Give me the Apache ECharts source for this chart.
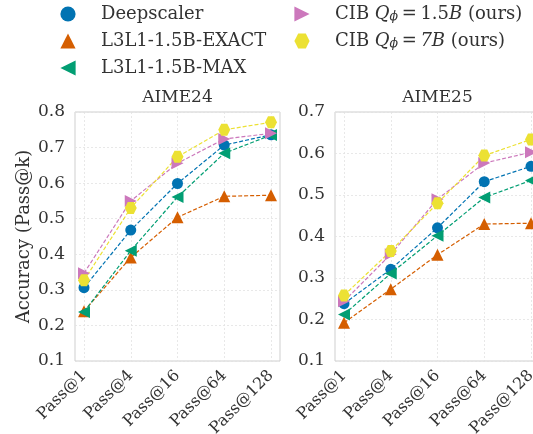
<!DOCTYPE html>
<html>
<head>
<meta charset="utf-8">
<script src="https://cdn.jsdelivr.net/npm/echarts@6/dist/echarts.min.js"></script>
<style>
html,body{margin:0;padding:0;background:#fff}
#main{width:533px;height:434px}
</style>
</head>
<body>
<div id="main"></div>
<script>
// 横轴
var passK = ['Pass@1', 'Pass@4', 'Pass@16', 'Pass@64', 'Pass@128'];
var names = ['Deepscaler', 'L3L1-1.5B-EXACT', 'L3L1-1.5B-MAX', 'CIB 1.5B', 'CIB 7B'];

// AIME24
var deepscaler24 = [0.306, 0.468, 0.599, 0.707, 0.736];
var exact24      = [0.240, 0.391, 0.504, 0.563, 0.566];
var max24        = [0.238, 0.410, 0.561, 0.684, 0.735];
var cib15_24     = [0.347, 0.550, 0.656, 0.724, 0.740];
var cib7_24      = [0.327, 0.530, 0.674, 0.750, 0.771];

// AIME25
var deepscaler25 = [0.238, 0.321, 0.421, 0.532, 0.569];
var exact25      = [0.192, 0.273, 0.356, 0.430, 0.432];
var max25        = [0.212, 0.311, 0.402, 0.494, 0.535];
var cib15_25     = [0.244, 0.357, 0.490, 0.577, 0.603];
var cib7_25      = [0.258, 0.365, 0.480, 0.595, 0.634];

var font = 'DejaVu Serif';
var txt = '#333';
var colors = ['#0173b2', '#d55e00', '#029e73', '#cc78bc', '#ece133'];
var symbols = [
    'circle',
    'triangle',
    'path://M0,5 L9,0 L9,10 Z',
    'path://M0,0 L9,5 L0,10 Z',
    'path://M2.5,0 L7.5,0 L10,4.33 L7.5,8.66 L2.5,8.66 L0,4.33 Z'
];
var sizes = [11, 12, 12, 12, 12];

var panels = [
    {title: 'AIME24', max: 0.8, data: [deepscaler24, exact24, max24, cib15_24, cib7_24]},
    {title: 'AIME25', max: 0.7, data: [deepscaler25, exact25, max25, cib15_25, cib7_25]}
];

var chart = echarts.init(document.getElementById('main'));

var grids = [], xAxes = [], yAxes = [], series = [], graphics = [];
var frameLeft = [75, 335];
panels.forEach(function (p, k) {
    var fl = frameLeft[k];
    // 外框
    grids.push({left: fl, top: 112, width: 205, height: 249, show: true,
        borderColor: '#cfcfcf', borderWidth: 1, backgroundColor: 'transparent',
        containLabel: false, outerBoundsMode: 'none'});
    // 数据区
    grids.push({left: fl + 9, top: 112, width: 187, height: 249,
        containLabel: false, outerBoundsMode: 'none'});
    xAxes.push({gridIndex: 2 * k, type: 'value', show: false, min: 0, max: 1});
    xAxes.push({
        gridIndex: 2 * k + 1, type: 'category', data: passK, boundaryGap: false,
        axisLine: {show: false}, axisTick: {show: false},
        axisLabel: {rotate: 45, margin: 12, fontFamily: font, fontSize: 16, color: txt},
        splitLine: {show: true, lineStyle: {color: '#e3e3e3', width: 0.8, type: [2, 2]}}
    });
    yAxes.push({
        gridIndex: 2 * k, type: 'value', min: 0.1, max: p.max, interval: 0.1,
        axisLine: {show: false}, axisTick: {show: false},
        axisLabel: {margin: 10, fontFamily: font, fontSize: 17, color: txt,
            formatter: function (v) { return v.toFixed(1); }},
        splitLine: {show: true, lineStyle: {color: '#e3e3e3', width: 0.8, type: [2, 2]}},
        name: k === 0 ? 'Accuracy (Pass@k)' : '',
        nameLocation: 'middle', nameGap: 42,
        nameTextStyle: {fontFamily: font, fontSize: 18, color: txt}
    });
    yAxes.push({gridIndex: 2 * k + 1, type: 'value', min: 0.1, max: p.max, show: false});
    p.data.forEach(function (d, i) {
        series.push({
            name: names[i], type: 'line', xAxisIndex: 2 * k + 1, yAxisIndex: 2 * k + 1,
            data: d, symbol: symbols[i], symbolSize: sizes[i],
            itemStyle: {color: colors[i]},
            lineStyle: {color: colors[i], width: 1.2, type: [4, 2]},
            emphasis: {disabled: true}
        });
    });
    graphics.push({
        type: 'text', x: fl + 102.5, y: 98,
        style: {text: p.title, font: '17px "DejaVu Serif"', fill: txt, align: 'center', verticalAlign: 'middle'}
    });
});

var rich = {
    i: {fontFamily: font, fontStyle: 'italic', fontSize: 18, color: txt},
    s: {fontFamily: font, fontStyle: 'italic', fontSize: 12.5, color: txt, verticalAlign: 'bottom'},
    m: {fontFamily: font, fontSize: 18, color: txt}
};
function legendLabel(name) {
    if (name === 'CIB 1.5B') return 'CIB {i|Q}{s|ϕ}{m|\u2009=\u20091.5}{i|B} (ours)';
    if (name === 'CIB 7B') return 'CIB {i|Q}{s|ϕ}{m|\u2009=\u2009}{i|7B} (ours)';
    return name;
}
var legendBase = {
    orient: 'vertical', top: 5, padding: 0, itemWidth: 56, itemHeight: 19, itemGap: 9,
    formatter: legendLabel,
    textStyle: {fontFamily: font, fontSize: 18, color: txt, rich: rich},
    lineStyle: {opacity: 0},
    selectedMode: false
};

var option = {
    animation: false,
    backgroundColor: '#fff',
    legend: [
        Object.assign({}, legendBase, {left: 39, data: names.slice(0, 3)}),
        Object.assign({}, legendBase, {left: 273, data: names.slice(3)})
    ],
    grid: grids,
    xAxis: xAxes,
    yAxis: yAxes,
    series: series,
    graphic: graphics
};
chart.setOption(option);
</script>
</body>
</html>
